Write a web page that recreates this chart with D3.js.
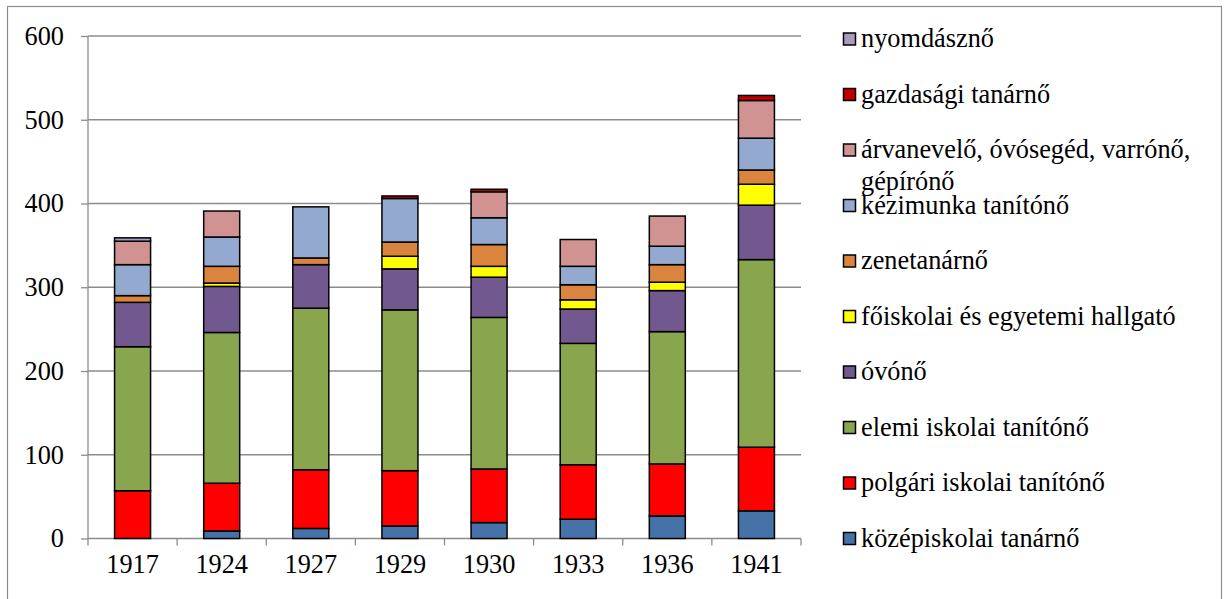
<!DOCTYPE html>
<html><head><meta charset="utf-8">
<script src="https://cdn.jsdelivr.net/npm/d3@7"></script>
<style>body{margin:0;background:#fff}svg{display:block}text{font-family:"Liberation Serif","Times New Roman",Times,serif}</style>
</head><body><svg id="c" width="1229" height="599"></svg>
<script>
const years = ["1917","1924","1927","1929","1930","1933","1936","1941"];
const seriesNames = ["középiskolai tanárnő","polgári iskolai tanítónő","elemi iskolai tanítónő","óvónő","főiskolai és egyetemi hallgató","zenetanárnő","kézimunka tanítónő","árvanevelő, óvósegéd, varrónő, gépírónő","gazdasági tanárnő","nyomdásznő"];
const kozepiskolai = [0, 9, 12, 15, 19, 23, 27, 33];
const polgari      = [57, 57, 70, 66, 64, 65, 62, 76];
const elemi        = [172, 180, 193, 192, 181, 145, 158, 224];
const ovono        = [53, 55, 52, 49, 48, 41, 49, 65];
const foiskolai    = [0, 4, 0, 15, 13, 11, 10, 25];
const zene         = [8, 20, 8, 17, 26, 18, 21, 17];
const kezimunka    = [37, 35, 61, 52, 32, 22, 22, 38];
const arvanevelo   = [28, 31, 0, 0, 31, 32, 36, 45];
const gazdasagi    = [0, 0, 0, 3, 3, 0, 0, 6];
const nyomdasz     = [4, 0, 0, 0, 0, 0, 0, 0];
const yTicks = [0, 100, 200, 300, 400, 500, 600];
const colors = ["#4572A7","#FF0000","#89A54E","#71588F","#FFFF00","#DB843D","#93A9CF","#D19392","#C00000","#A99BBD"];

const values = [kozepiskolai, polgari, elemi, ovono, foiskolai, zene, kezimunka, arvanevelo, gazdasagi, nyomdasz];
const rows = years.map((y, i) => { const r = {year: y}; values.forEach((v, k) => r[k] = v[i]); return r; });
const stack = d3.stack().keys(d3.range(values.length))(rows);

const svg = d3.select("#c");
const font = "Liberation Serif, Times New Roman, serif";
const fs = 26.3;
svg.append("rect").attr("x", 7.5).attr("y", 6.5).attr("width", 1214).attr("height", 600)
  .attr("fill", "#fff").attr("stroke", "#8c8c8c").attr("stroke-width", 1.2);

const xb = d3.scaleBand().domain(years).range([88, 801]);
const y = d3.scaleLinear().domain([0, 600]).range([538.5, 36]);

// gridlines
svg.append("g").selectAll("line").data(yTicks.slice(1)).join("line")
  .attr("x1", 88).attr("x2", 801).attr("y1", d => y(d)).attr("y2", d => y(d))
  .attr("stroke", "#8c8c8c").attr("stroke-width", 1.3);

// y axis
const ya = svg.append("g").attr("transform", "translate(88,0)")
  .call(d3.axisLeft(y).tickValues(yTicks).tickSize(7).tickPadding(17));
ya.attr("font-family", null).attr("font-size", null);
ya.select(".domain").attr("stroke", "#8c8c8c").attr("stroke-width", 1.3).attr("d", `M0,${y(600)}V${y(0)}`);
ya.selectAll(".tick line").attr("stroke", "#8c8c8c").attr("stroke-width", 1.3);
ya.selectAll("text").style("font-family", font).style("font-size", fs + "px").attr("fill", "#000");

// x axis
const xa = svg.append("g").attr("transform", `translate(0,${y(0)})`)
  .call(d3.axisBottom(xb).tickSize(0).tickPadding(16));
xa.attr("font-family", null).attr("font-size", null);
xa.select(".domain").attr("stroke", "#8c8c8c").attr("stroke-width", 1.3).attr("d", "M88,0H801");
xa.selectAll("text").style("font-family", font).style("font-size", fs + "px").attr("fill", "#000");
xa.selectAll(".sep").data(d3.range(years.length + 1)).join("line").attr("class", "sep")
  .attr("x1", i => 88 + i * xb.step()).attr("x2", i => 88 + i * xb.step())
  .attr("y1", 0).attr("y2", 7).attr("stroke", "#8c8c8c").attr("stroke-width", 1.3);

// bars
svg.append("g").selectAll("g").data(stack).join("g")
  .attr("fill", (d, i) => colors[i])
  .selectAll("rect").data(d => d.filter(p => p[1] - p[0] > 0)).join("rect")
  .attr("x", d => xb(d.data.year) + xb.bandwidth() / 2 - 18)
  .attr("width", 36)
  .attr("y", d => y(d[1]))
  .attr("height", d => y(d[0]) - y(d[1]))
  .attr("stroke", "#000").attr("stroke-width", 1.5);

// legend
const legendOrder = d3.range(values.length).reverse();
const lg = svg.append("g");
const legendY = d => 39 + (values.length - 1 - d) * 55.5;
legendOrder.forEach(k => {
  const cy = legendY(k);
  lg.append("rect").attr("x", 843.5).attr("y", cy - 6).attr("width", 12).attr("height", 12)
    .attr("fill", colors[k]).attr("stroke", "#000").attr("stroke-width", 1.5);
  const t = lg.append("text").attr("x", 861).attr("y", cy + 8)
    .style("font-family", font).style("font-size", fs + "px").attr("fill", "#000");
  if (k === 7) {
    t.append("tspan").attr("x", 861).text("árvanevelő, óvósegéd, varrónő,");
    t.append("tspan").attr("x", 861).attr("dy", 32).text("gépírónő");
  } else {
    t.text(seriesNames[k]);
  }
});
</script></body></html>
